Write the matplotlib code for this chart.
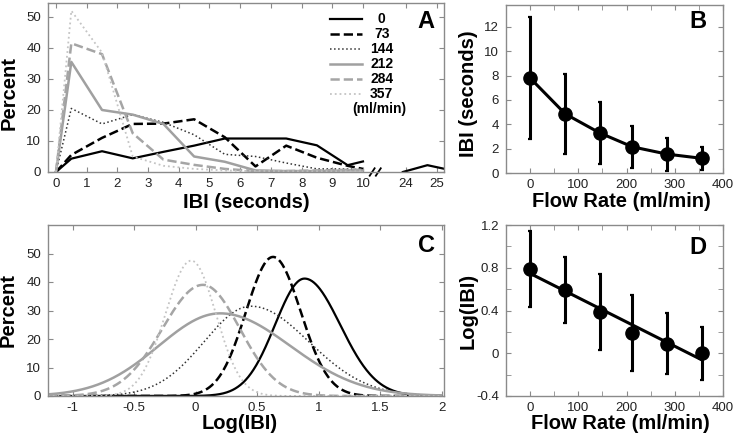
import numpy as np
import matplotlib
matplotlib.use("Agg")
import matplotlib.pyplot as plt
from matplotlib.ticker import MultipleLocator

plt.rcParams['font.family'] = ['Liberation Sans', 'DejaVu Sans']

# ---------------- data ----------------
flow_rates = [0, 73, 144, 212, 284, 357]
flow_labels = ['0', '73', '144', '212', '284', '357']

# Panel A: IBI histograms (percent) at bin positions
ibi_x = [0, 0.5, 1.5, 2.5, 3.5, 4.5, 5.5, 6.5, 7.5, 8.5, 9.5, 10.0]
pct_0 = [0, 4.3, 6.7, 4.4, 6.5, 8.5, 10.8, 10.8, 10.8, 8.6, 2.2, 3.4]
pct_73 = [0, 5.5, 11.0, 15.5, 15.6, 17.0, 11.2, 1.8, 8.5, 4.6, 2.0, 1.0]
pct_144 = [0, 20.5, 15.5, 18.5, 16.0, 12.0, 5.7, 5.0, 2.9, 1.0, 1.0, 0.7]
pct_212 = [0, 35.5, 20.0, 18.5, 15.5, 5.0, 3.3, 0.5, 0.3, 0.3, 0.5, 0.5]
pct_284 = [0, 41.5, 38.0, 12.5, 4.0, 2.3, 1.0, 0.3, 0.3, 0.5, 0.7, 0.7]
pct_357 = [0, 52.0, 38.5, 5.0, 2.0, 1.0, 0.5, 0.3, 0.2, 0.2, 0.2, 0.2]
# long-IBI tail of the 0 ml/min series (right of the axis break)
ibi_tail = [23.9, 24.7, 25.5]
pct_0_tail = [0, 2.2, 0.5]
a_xticks = [0, 1, 2, 3, 4, 5, 6, 7, 8, 9, 10, 24, 25]

# Panel B: mean IBI (s) and SD
ibi_mean = [7.8, 4.85, 3.3, 2.15, 1.55, 1.2]
ibi_sd = [5.0, 3.25, 2.55, 1.7, 1.35, 0.95]

# Panel C: fitted Log(IBI) distributions (mode, peak %, left/right spread)
c_mode = [0.886, 0.63, 0.45, 0.2, 0.06, -0.035]
c_peak = [41.2, 48.8, 31.5, 29.0, 39.0, 47.5]
c_sig_left = [0.24, 0.22, 0.38, 0.50, 0.33, 0.21]
c_sig_right = [0.29, 0.225, 0.47, 0.57, 0.30, 0.20]

# Panel D: mean Log(IBI) and SD
log_mean = [0.79, 0.59, 0.39, 0.19, 0.09, 0.0]
log_sd = [0.355, 0.31, 0.355, 0.355, 0.285, 0.25]

# ---------------- styles ----------------
styles = [
    dict(color='black', ls='-', lw=1.6),
    dict(color='black', ls='--', lw=1.8),
    dict(color='#333333', ls=':', lw=1.1),
    dict(color='#a0a0a0', ls='-', lw=1.8),
    dict(color='#a5a5a5', ls='--', lw=1.8),
    dict(color='#c4c4c4', ls=':', lw=1.3),
]
SPINE = '#8a8a8a'
TXT = '#222222'

W, H = 734, 442
fig = plt.figure(figsize=(W / 100, H / 100), dpi=100)


def rect(l, t, r, b):
    return [l / W, 1 - b / H, (r - l) / W, (b - t) / H]


axA = fig.add_axes(rect(48, 3, 444, 172))
axB = fig.add_axes(rect(506, 5, 723, 173))
axC = fig.add_axes(rect(48, 225, 444, 396))
axD = fig.add_axes(rect(506, 225, 723, 396))

for ax in (axA, axB, axC, axD):
    for s in ax.spines.values():
        s.set_color(SPINE)
        s.set_linewidth(1.0)
    ax.tick_params(which='both', direction='in', top=True, right=True,
                   color=SPINE, labelsize=9.5, labelcolor=TXT, pad=4)
    ax.tick_params(which='major', length=3.5)
    ax.tick_params(which='minor', length=3.5)
    ax.tick_params(axis='y', pad=5)

label_kw = dict(fontsize=14.5, fontweight='bold', color='black')
letter_kw = dict(fontsize=17, fontweight='bold', color='black', ha='center', va='center')

# ---------------- Panel A ----------------
BREAK_OFFSET = 12.6
series_A = [pct_0, pct_73, pct_144, pct_212, pct_284, pct_357]
for vals, st in zip(series_A, styles):
    axA.plot(ibi_x, vals, **st)
axA.plot(np.array(ibi_tail) - BREAK_OFFSET, pct_0_tail, **styles[0])
axA.set_xlim(-0.26, 12.64)
axA.set_ylim(0, 54.5)
axA.set_xticks([t if t <= 10 else t - BREAK_OFFSET for t in a_xticks])
axA.set_xticklabels([str(t) for t in a_xticks])
axA.set_yticks([0, 10, 20, 30, 40, 50])
# axis break marks
for dx in (10.3, 10.5):
    axA.plot([dx - 0.08, dx + 0.08], [-1.2, 1.2], color='black', lw=1.3, clip_on=False)
axA.set_xlabel('IBI (seconds)', **label_kw)
axA.xaxis.set_label_coords(0.5, -0.178)
axA.xaxis.label.set_va('center')
axA.set_ylabel('Percent', **label_kw)
axA.yaxis.set_label_coords(-0.098, 0.467)
axA.yaxis.label.set_va('center')
axA.text(0.955, 0.89, 'A', transform=axA.transAxes, **letter_kw)

# manual legend
for i, (lab, st) in enumerate(zip(flow_labels, styles)):
    yy = 0.905 - i * 0.0888
    axA.plot([0.712, 0.793], [yy, yy], transform=axA.transAxes, **st)
    axA.text(0.843, yy, lab, transform=axA.transAxes, ha='center', va='center',
             fontsize=10, fontweight='bold', color='black')
axA.text(0.836, 0.905 - 6 * 0.0888, '(ml/min)', transform=axA.transAxes,
         ha='center', va='center', fontsize=10, fontweight='bold', color='black')

# ---------------- Panel B ----------------
axB.errorbar(flow_rates, ibi_mean, yerr=ibi_sd, color='black', lw=2.2,
             marker='o', ms=9.5, elinewidth=2.2, capsize=1.6, capthick=1.6)
axB.set_xlim(-50, 400)
axB.set_ylim(0, 13.8)
axB.xaxis.set_major_locator(MultipleLocator(100))
axB.xaxis.set_minor_locator(MultipleLocator(50))
axB.set_yticks([0, 2, 4, 6, 8, 10, 12])
axB.set_xlabel('Flow Rate (ml/min)', **label_kw)
axB.xaxis.set_label_coords(0.53, -0.172)
axB.xaxis.label.set_va('center')
axB.set_ylabel('IBI (seconds)', **label_kw)
axB.yaxis.set_label_coords(-0.175, 0.473)
axB.yaxis.label.set_va('center')
axB.text(0.885, 0.9, 'B', transform=axB.transAxes, **letter_kw)

# ---------------- Panel C ----------------
xs = np.linspace(-1.2, 2.0, 600)
for m, p, sl, sr, st in zip(c_mode, c_peak, c_sig_left, c_sig_right, styles):
    sig = np.where(xs < m, sl, sr)
    axC.plot(xs, p * np.exp(-0.5 * ((xs - m) / sig) ** 2), **st)
axC.set_xlim(-1.2, 2.02)
axC.set_ylim(0, 60)
axC.set_xticks([-1, -0.5, 0, 0.5, 1, 1.5, 2])
axC.set_xticklabels(['-1', '-0.5', '0', '0.5', '1', '1.5', '2'])
axC.set_yticks([0, 10, 20, 30, 40, 50])
axC.set_xlabel('Log(IBI)', **label_kw)
axC.xaxis.set_label_coords(0.485, -0.162)
axC.xaxis.label.set_va('center')
axC.set_ylabel('Percent', **label_kw)
axC.yaxis.set_label_coords(-0.101, 0.5)
axC.yaxis.label.set_va('center')
axC.text(0.955, 0.88, 'C', transform=axC.transAxes, **letter_kw)

# ---------------- Panel D ----------------
fit = np.polyfit(flow_rates, log_mean, 1)
fx = np.array([flow_rates[0], flow_rates[-1]])
axD.plot(fx, np.polyval(fit, fx), color='black', lw=2.2)
axD.errorbar(flow_rates, log_mean, yerr=log_sd, color='black', ls='none',
             marker='o', ms=9.5, elinewidth=2.2, capsize=1.6, capthick=1.6)
axD.set_xlim(-50, 400)
axD.set_ylim(-0.4, 1.2)
axD.xaxis.set_major_locator(MultipleLocator(100))
axD.xaxis.set_minor_locator(MultipleLocator(50))
axD.set_yticks([-0.4, 0, 0.4, 0.8, 1.2])
axD.set_yticklabels(['-0.4', '0', '0.4', '0.8', '1.2'])
axD.yaxis.set_minor_locator(MultipleLocator(0.2))
axD.set_xlabel('Flow Rate (ml/min)', **label_kw)
axD.xaxis.set_label_coords(0.525, -0.162)
axD.xaxis.label.set_va('center')
axD.set_ylabel('Log(IBI)', **label_kw)
axD.yaxis.set_label_coords(-0.175, 0.5)
axD.yaxis.label.set_va('center')
axD.text(0.885, 0.87, 'D', transform=axD.transAxes, **letter_kw)

fig.savefig('out.png', dpi=100)
